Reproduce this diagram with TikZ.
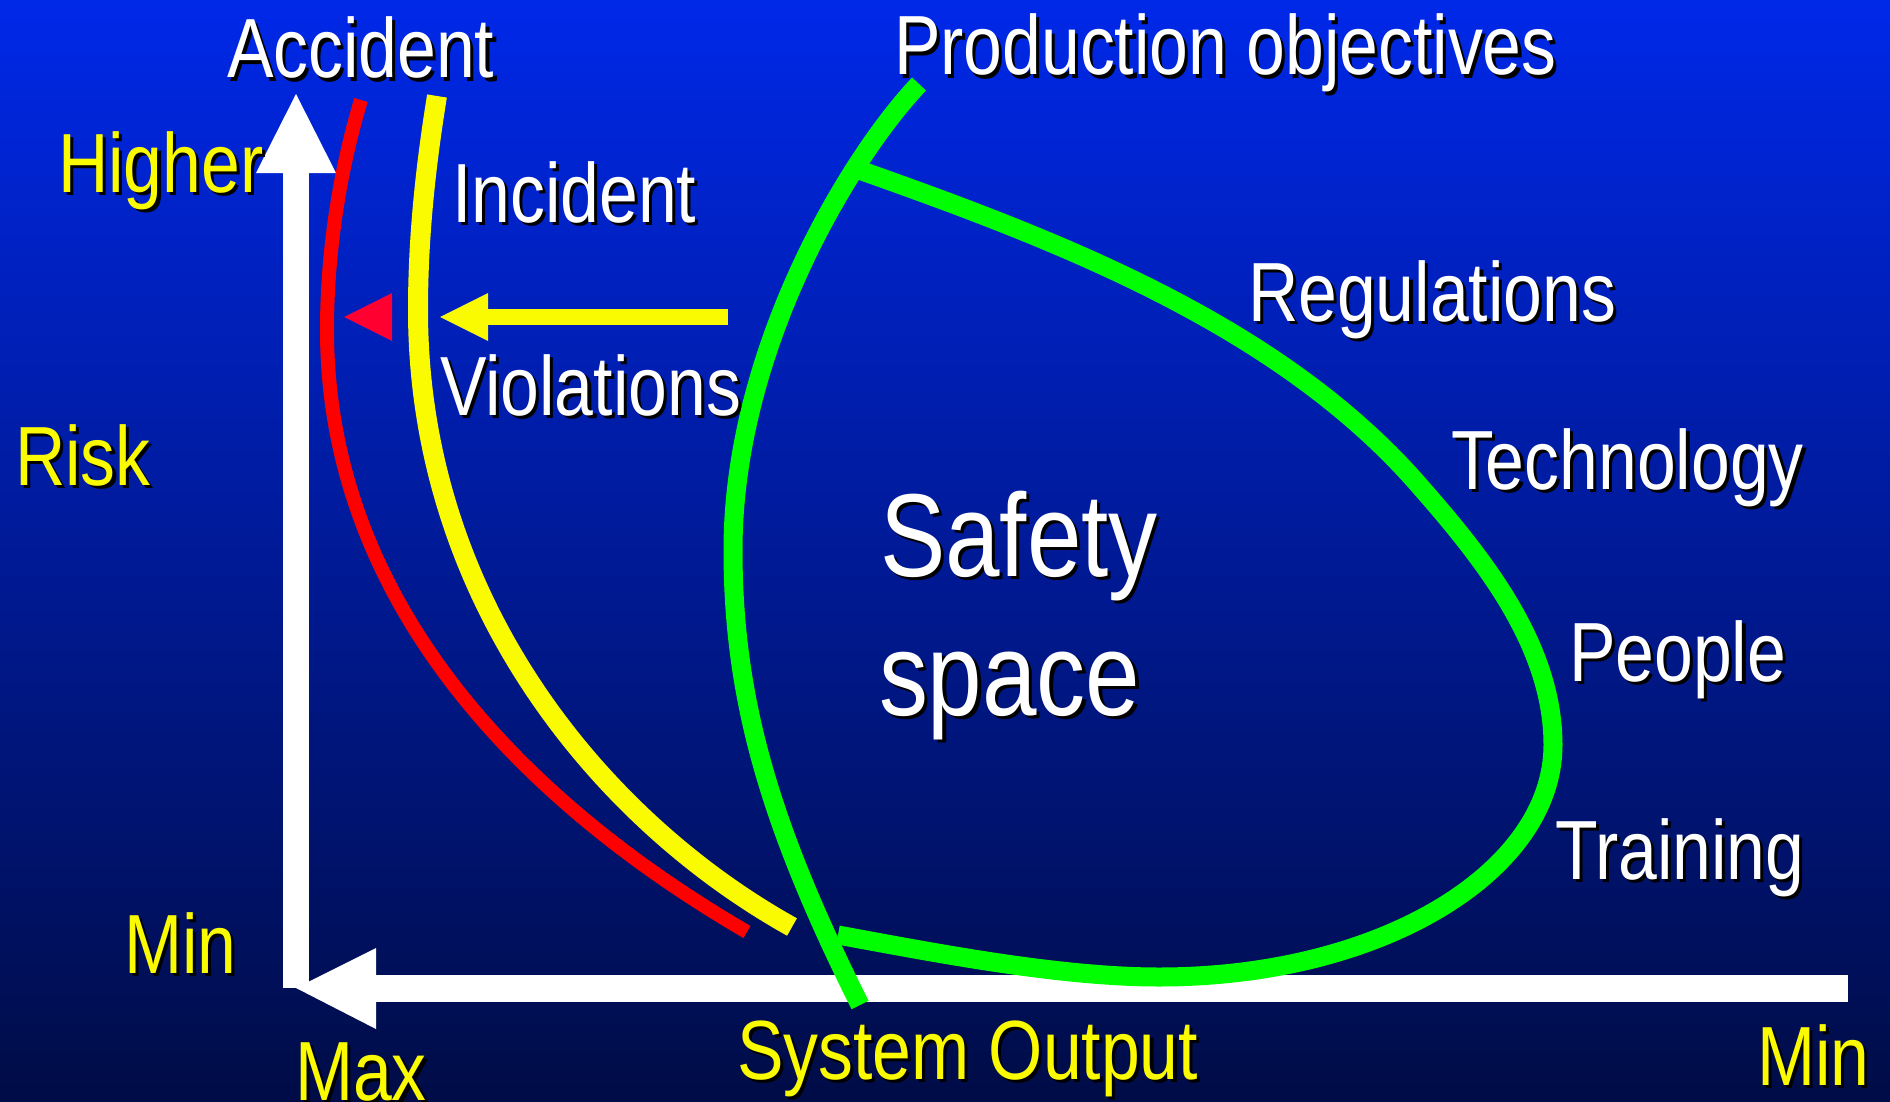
\documentclass[tikz,border=0pt]{standalone}
\usepackage{fontspec}
\setmainfont[FakeStretch=0.83]{Liberation Sans}
\definecolor{bgtop}{RGB}{0,40,232}
\definecolor{bgbot}{RGB}{0,12,70}
\definecolor{gr}{RGB}{0,255,0}
\definecolor{rd}{RGB}{255,0,0}
\definecolor{rdtri}{RGB}{255,0,48}
\definecolor{yl}{RGB}{250,250,0}
\newcommand{\shd}[2]{\leavevmode\rlap{\kern1.6pt\raisebox{-1.6pt}{\color{black}#2}}{\color{#1}#2}}
\tikzset{
  lbl/.style={anchor=base west, inner sep=0pt, outer sep=0pt, font=\fontsize{42}{42}\selectfont},
  biglbl/.style={anchor=base west, inner sep=0pt, outer sep=0pt, font=\fontsize{59}{59}\selectfont},
  redcurve/.style={draw=rd, line width=7pt},
  yelcurve/.style={draw=yl, line width=10pt},
  grncurve/.style={draw=gr, line width=9.5pt},
  axisfill/.style={fill=white},
}
\begin{document}
\begin{tikzpicture}[x=0.5pt,y=-0.5pt]
\useasboundingbox (0,0) rectangle (1890,1102);
\shade[top color=bgtop, bottom color=bgbot] (0,0) rectangle (1890,1102);

% axes
\fill[axisfill] (283,172) rectangle (309,988);
\fill[axisfill] (296,94) -- (336,173) -- (256,173) -- cycle;
\fill[axisfill] (375,975) rectangle (1848,1002);
\fill[axisfill] (296,988) -- (376,948) -- (376,1029) -- cycle;

% red curve (accident)
\draw[redcurve] (361,100) .. controls (340,170) and (327,250) .. (327,330)
                .. controls (327,600) and (520,800) .. (747,932);
% yellow curve (incident)
\draw[yelcurve] (437,96) .. controls (425,170) and (418,240) .. (418,310)
                .. controls (418,600) and (600,820) .. (792,927);
% production objectives green curve
\draw[grncurve] (919,84) .. controls (849,158) and (733,350) .. (733,550)
                .. controls (733,700) and (770,825) .. (860,1005);
% safety space boundary
\draw[grncurve] (862,171) .. controls (1060,241) and (1278,325) .. (1417,483)
                .. controls (1483,558) and (1553,645) .. (1553,745)
                .. controls (1553,870) and (1384,977) .. (1159,977)
                .. controls (1059,977) and (936,953) .. (838,935);

% small arrows
\fill[rdtri] (344,317) -- (392,293) -- (392,341) -- cycle;
\fill[yl] (487,309) rectangle (728,325);
\fill[yl] (440,317) -- (488,293) -- (488,341) -- cycle;

% labels
\node[lbl] (accident) at (227,78) {\shd{white}{Accident}};
\node[lbl] (prod) at (894,75) {\shd{white}{Production objectives}};
\node[lbl] (higher) at (58,192) {\shd{yl}{Higher}};
\node[lbl] (incident) at (452,222) {\shd{white}{Incident}};
\node[lbl] (violations) at (440,415) {\shd{white}{Violations}};
\node[lbl] (risk) at (15,485) {\shd{yl}{Risk}};
\node[lbl] (regulations) at (1248,321) {\shd{white}{Regulations}};
\node[lbl] (technology) at (1451,489) {\shd{white}{Technology}};
\node[lbl] (people) at (1569,681) {\shd{white}{People}};
\node[lbl] (training) at (1555,879) {\shd{white}{Training}};
\node[biglbl] (safety) at (880,576) {\shd{white}{Safety}};
\node[biglbl] (space) at (879,715) {\shd{white}{space}};
\node[lbl] (minl) at (124,973) {\shd{yl}{Min}};
\node[lbl] (max) at (295,1100) {\shd{yl}{Max}};
\node[lbl] (sysout) at (737,1079) {\shd{yl}{System Output}};
\node[lbl] (minr) at (1757,1085) {\shd{yl}{Min}};
\end{tikzpicture}
\end{document}
